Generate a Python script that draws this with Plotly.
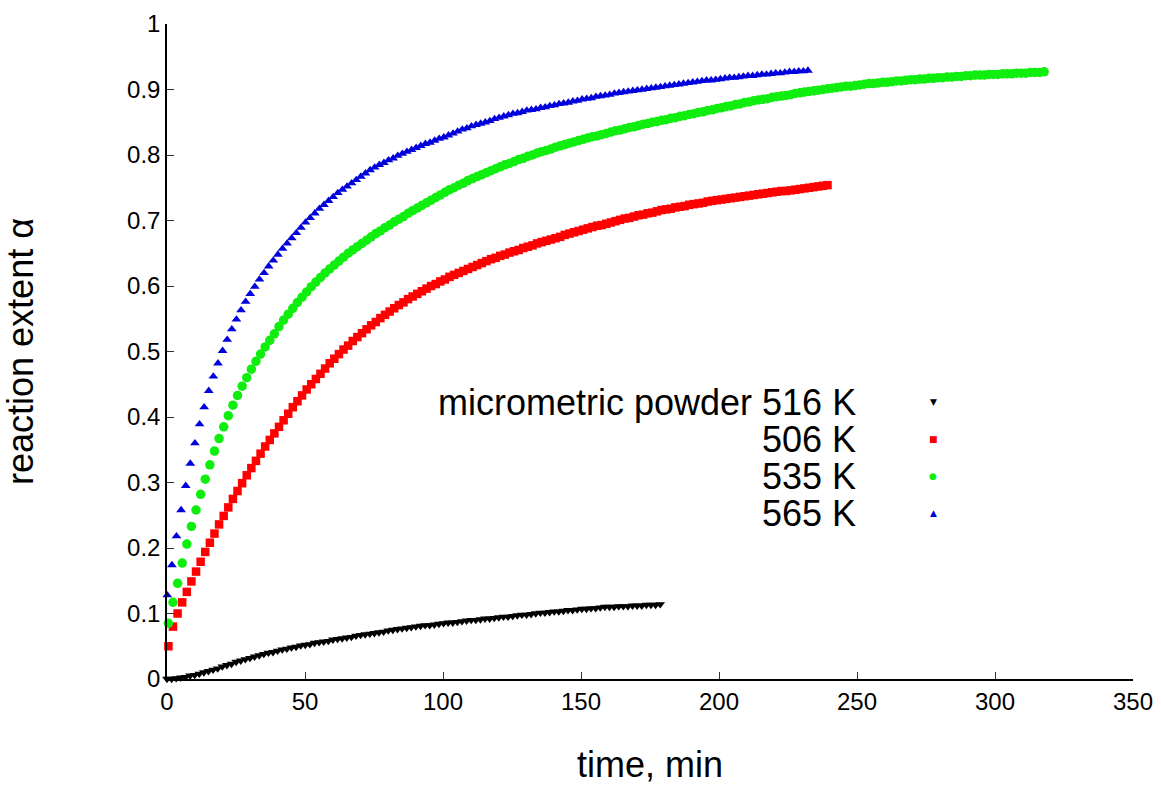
import plotly.graph_objects as go

# sampling interval of the measurements (minutes) and start times
dt_min = 1.67
t0_black, t0_red, t0_green, t0_blue = 0.0, 0.5, 0.5, 0.1

labels = ["micrometric powder 516 K", "506 K", "535 K", "565 K"]

alpha_black_516 = [
    0.000, 0.000, 0.001, 0.002, 0.003, 0.005, 0.006, 0.008, 0.010, 0.012,
    0.014, 0.016, 0.019, 0.021, 0.023, 0.026, 0.028, 0.030, 0.032, 0.034,
    0.036, 0.038, 0.040, 0.041, 0.043, 0.045, 0.046, 0.048, 0.049, 0.051,
    0.052, 0.053, 0.055, 0.056, 0.057, 0.058, 0.060, 0.061, 0.062, 0.063,
    0.064, 0.066, 0.067, 0.068, 0.069, 0.070, 0.071, 0.072, 0.074, 0.075,
    0.076, 0.077, 0.078, 0.079, 0.080, 0.081, 0.082, 0.082, 0.083, 0.084,
    0.085, 0.086, 0.086, 0.087, 0.088, 0.089, 0.090, 0.090, 0.091, 0.092,
    0.092, 0.093, 0.094, 0.095, 0.095, 0.096, 0.097, 0.098, 0.098, 0.099,
    0.100, 0.101, 0.101, 0.102, 0.103, 0.103, 0.104, 0.105, 0.105, 0.106,
    0.107, 0.107, 0.108, 0.108, 0.109, 0.110, 0.110, 0.110, 0.111, 0.111,
    0.111, 0.112, 0.112, 0.112, 0.113, 0.113, 0.113, 0.114,
]

alpha_red_506 = [
    0.050, 0.080, 0.100, 0.117, 0.133, 0.149, 0.164, 0.179, 0.194, 0.208,
    0.222, 0.236, 0.249, 0.262, 0.275, 0.287, 0.299, 0.311, 0.322, 0.333,
    0.344, 0.355, 0.365, 0.375, 0.385, 0.395, 0.405, 0.415, 0.424, 0.433,
    0.442, 0.450, 0.458, 0.466, 0.474, 0.482, 0.489, 0.496, 0.503, 0.509,
    0.516, 0.522, 0.528, 0.534, 0.540, 0.545, 0.551, 0.556, 0.561, 0.566,
    0.571, 0.575, 0.580, 0.584, 0.588, 0.592, 0.596, 0.600, 0.603, 0.607,
    0.610, 0.614, 0.617, 0.620, 0.623, 0.626, 0.629, 0.632, 0.635, 0.638,
    0.641, 0.643, 0.646, 0.648, 0.651, 0.653, 0.655, 0.658, 0.660, 0.662,
    0.665, 0.667, 0.669, 0.671, 0.673, 0.675, 0.678, 0.680, 0.682, 0.684,
    0.686, 0.688, 0.690, 0.692, 0.693, 0.695, 0.697, 0.699, 0.701, 0.703,
    0.704, 0.706, 0.708, 0.709, 0.711, 0.712, 0.714, 0.716, 0.717, 0.718,
    0.720, 0.721, 0.722, 0.724, 0.725, 0.726, 0.727, 0.729, 0.730, 0.731,
    0.732, 0.733, 0.734, 0.735, 0.736, 0.737, 0.738, 0.739, 0.740, 0.741,
    0.742, 0.743, 0.744, 0.745, 0.745, 0.746, 0.747, 0.748, 0.749, 0.750,
    0.751, 0.752, 0.753, 0.754,
]

alpha_green_535 = [
    0.085, 0.117, 0.146, 0.177, 0.206, 0.233, 0.258, 0.282, 0.305, 0.327,
    0.348, 0.367, 0.385, 0.402, 0.418, 0.433, 0.447, 0.460, 0.473, 0.485,
    0.496, 0.507, 0.517, 0.527, 0.538, 0.548, 0.557, 0.566, 0.575, 0.583,
    0.591, 0.599, 0.606, 0.613, 0.620, 0.626, 0.632, 0.638, 0.644, 0.650,
    0.655, 0.660, 0.665, 0.670, 0.675, 0.680, 0.684, 0.689, 0.693, 0.698,
    0.702, 0.706, 0.711, 0.715, 0.719, 0.723, 0.727, 0.731, 0.735, 0.739,
    0.743, 0.747, 0.750, 0.754, 0.757, 0.761, 0.764, 0.767, 0.770, 0.773,
    0.776, 0.779, 0.782, 0.785, 0.787, 0.790, 0.793, 0.795, 0.798, 0.800,
    0.803, 0.805, 0.807, 0.809, 0.812, 0.814, 0.816, 0.818, 0.820, 0.822,
    0.824, 0.826, 0.828, 0.829, 0.831, 0.833, 0.835, 0.837, 0.838, 0.840,
    0.842, 0.843, 0.845, 0.847, 0.848, 0.850, 0.851, 0.853, 0.854, 0.856,
    0.857, 0.859, 0.860, 0.862, 0.863, 0.865, 0.866, 0.868, 0.869, 0.871,
    0.872, 0.874, 0.875, 0.877, 0.878, 0.880, 0.881, 0.883, 0.884, 0.885,
    0.886, 0.888, 0.889, 0.890, 0.891, 0.892, 0.894, 0.895, 0.896, 0.897,
    0.898, 0.899, 0.900, 0.901, 0.902, 0.903, 0.904, 0.905, 0.905, 0.906,
    0.907, 0.908, 0.909, 0.909, 0.910, 0.911, 0.911, 0.912, 0.913, 0.913,
    0.914, 0.915, 0.915, 0.916, 0.916, 0.917, 0.917, 0.918, 0.918, 0.919,
    0.919, 0.920, 0.920, 0.921, 0.921, 0.922, 0.922, 0.922, 0.923, 0.923,
    0.923, 0.924, 0.924, 0.924, 0.925, 0.925, 0.925, 0.926, 0.926, 0.926,
    0.927,
]

alpha_blue_565 = [
    0.128, 0.174, 0.218, 0.258, 0.295, 0.329, 0.360, 0.389, 0.415, 0.440,
    0.462, 0.482, 0.501, 0.518, 0.534, 0.549, 0.563, 0.576, 0.588, 0.599,
    0.610, 0.620, 0.630, 0.639, 0.648, 0.657, 0.665, 0.673, 0.681, 0.689,
    0.697, 0.704, 0.711, 0.718, 0.724, 0.730, 0.736, 0.742, 0.747, 0.752,
    0.757, 0.762, 0.767, 0.772, 0.777, 0.781, 0.785, 0.788, 0.792, 0.795,
    0.799, 0.802, 0.805, 0.808, 0.811, 0.814, 0.817, 0.819, 0.822, 0.825,
    0.827, 0.830, 0.833, 0.836, 0.839, 0.841, 0.844, 0.846, 0.848, 0.850,
    0.852, 0.855, 0.857, 0.859, 0.861, 0.863, 0.864, 0.866, 0.868, 0.869,
    0.870, 0.872, 0.873, 0.875, 0.876, 0.878, 0.879, 0.880, 0.882, 0.883,
    0.885, 0.886, 0.887, 0.889, 0.890, 0.891, 0.892, 0.894, 0.895, 0.896,
    0.897, 0.898, 0.899, 0.900, 0.901, 0.902, 0.903, 0.904, 0.905, 0.906,
    0.907, 0.908, 0.909, 0.910, 0.911, 0.912, 0.913, 0.914, 0.914, 0.915,
    0.916, 0.917, 0.918, 0.918, 0.919, 0.920, 0.921, 0.921, 0.922, 0.923,
    0.923, 0.924, 0.925, 0.925, 0.926, 0.927, 0.927, 0.928, 0.928, 0.929,
]

x_ticks = [0, 50, 100, 150, 200, 250, 300, 350]
y_ticks = [0, 0.1, 0.2, 0.3, 0.4, 0.5, 0.6, 0.7, 0.8, 0.9, 1]


def times(t0, n):
    return [round(t0 + i * dt_min, 3) for i in range(n)]


series = [
    (labels[0], t0_black, alpha_black_516, "black", "triangle-down", 8.5),
    (labels[1], t0_red, alpha_red_506, "#ff0000", "square", 8.5),
    (labels[2], t0_green, alpha_green_535, "#10ee10", "circle", 9.5),
    (labels[3], t0_blue, alpha_blue_565, "#0000dd", "triangle-up", 8.5),
]

FONT = "Liberation Sans, Arial, sans-serif"

fig = go.Figure()
for name, t0, vals, color, sym, size in series:
    fig.add_trace(go.Scatter(
        x=times(t0, len(vals)), y=vals, mode="markers", name=name,
        marker=dict(symbol=sym, color=color, size=size, line=dict(width=0)),
        cliponaxis=False, showlegend=False,
    ))

# key (gnuplot style: label text right-aligned, symbol to its right)
key_rows_y = [0.4229, 0.3664, 0.3099, 0.2534]
key_glyphs = ["\u25BC", "\u25A0", "\u25CF", "\u25B2"]
annotations = []
for (name, t0, vals, color, sym, size), ky, g in zip(series, key_rows_y, key_glyphs):
    annotations.append(dict(
        x=0.7153, y=ky, xref="paper", yref="paper", text=name,
        showarrow=False, xanchor="right", yanchor="middle",
        font=dict(family=FONT, size=36, color="black"),
    ))
    annotations.append(dict(
        x=0.793, y=ky, xref="paper", yref="paper", text=g,
        showarrow=False, xanchor="center", yanchor="middle",
        font=dict(family="DejaVu Sans", size=9, color=color),
    ))

fig.update_layout(
    width=1161, height=785,
    margin=dict(l=167, r=28, t=24, b=106),
    paper_bgcolor="white", plot_bgcolor="white",
    font=dict(family=FONT, color="black"),
    annotations=annotations,
    xaxis=dict(
        range=[0, 350], tickvals=x_ticks, ticks="inside", ticklen=7,
        tickwidth=1, tickcolor="#333333", showline=True, linecolor="black",
        linewidth=1.5, showgrid=False, zeroline=False, mirror=False,
        tickfont=dict(family=FONT, size=24, color="black"),
        ticklabeloverflow="allow",
        title=dict(text="time, min", font=dict(family=FONT, size=36), standoff=52),
        automargin=False,
    ),
    yaxis=dict(
        range=[0, 1], tickvals=y_ticks, ticks="inside", ticklen=7,
        tickwidth=1, tickcolor="#333333", showline=True, linecolor="black",
        linewidth=1.5, showgrid=False, zeroline=False, mirror=False,
        tickfont=dict(family=FONT, size=24, color="black"),
        ticklabeloverflow="allow",
        title=dict(text="reaction extent α", font=dict(family=FONT, size=36), standoff=98),
        automargin=False,
    ),
)

fig.write_html(
    "out.html",
    config={"displayModeBar": False},
    post_script="document.body.style.margin='0';document.body.style.overflow='hidden';",
)
